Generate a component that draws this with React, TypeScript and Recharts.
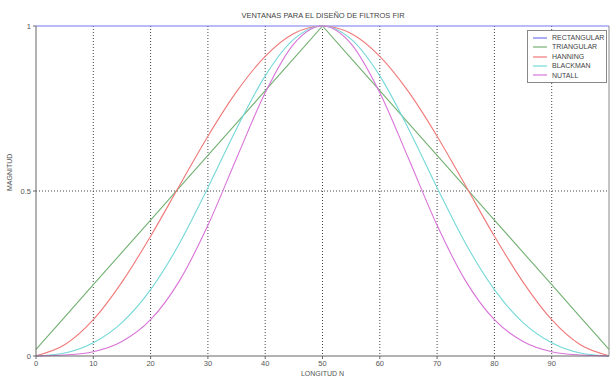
import React from 'react';
import { LineChart, Line, XAxis, YAxis, CartesianGrid, ReferenceLine } from 'recharts';

const muestras = [0, 5, 10, 15, 20, 25, 30, 35, 40, 45, 50, 55, 60, 65, 70, 75, 80, 85, 90, 95, 100];
const rectangular = [1, 1, 1, 1, 1, 1, 1, 1, 1, 1, 1, 1, 1, 1, 1, 1, 1, 1, 1, 1, 1];
const triangular = [0.02, 0.118, 0.216, 0.314, 0.412, 0.51, 0.608, 0.706, 0.804, 0.902, 1, 0.902, 0.804, 0.706, 0.608, 0.51, 0.412, 0.314, 0.216, 0.118, 0.02];
const hanning = [0.001, 0.034, 0.11, 0.224, 0.363, 0.515, 0.666, 0.801, 0.908, 0.977, 1, 0.977, 0.908, 0.801, 0.666, 0.515, 0.363, 0.224, 0.11, 0.034, 0.001];
const blackman = [0, 0.009, 0.04, 0.101, 0.201, 0.34, 0.51, 0.689, 0.849, 0.96, 1, 0.96, 0.849, 0.689, 0.51, 0.34, 0.201, 0.101, 0.04, 0.009, 0];
const nutall = [0, 0.003, 0.013, 0.044, 0.11, 0.227, 0.396, 0.599, 0.798, 0.946, 1, 0.946, 0.798, 0.599, 0.396, 0.227, 0.11, 0.044, 0.013, 0.003, 0];

const xTicks = [0, 10, 20, 30, 40, 50, 60, 70, 80, 90];
const yTicks = [0, 0.5, 1];

const series = [
    { key: 'rectangular', name: 'RECTANGULAR', color: '#7676f0' },
    { key: 'triangular', name: 'TRIANGULAR', color: '#72b072' },
    { key: 'hanning', name: 'HANNING', color: '#f07878' },
    { key: 'blackman', name: 'BLACKMAN', color: '#74d8d8' },
    { key: 'nutall', name: 'NUTALL', color: '#d874d8' },
];

const data = muestras.map((n, i) => ({
    n,
    rectangular: rectangular[i],
    triangular: triangular[i],
    hanning: hanning[i],
    blackman: blackman[i],
    nutall: nutall[i],
}));

const font = '"Liberation Sans", Arial, sans-serif';

// leyenda dibujada aparte para que no encoja el area del grafico
const LegendBox = () => (
    <div style={{ position: 'absolute', top: 30, left: 527, width: 80, boxSizing: 'border-box', border: '1px solid #888', background: '#fff', padding: '2px 0 2px 5px', fontFamily: font, fontSize: 7, color: '#444', lineHeight: '9.4px' }}>
        {series.map(s => (
            <div key={s.key} style={{ display: 'flex', alignItems: 'center' }}>
                <svg width={14} height={4} style={{ marginRight: 5 }}>
                    <line x1={0} y1={2} x2={14} y2={2} stroke={s.color} strokeWidth={1.2} />
                </svg>
                {s.name}
            </div>
        ))}
    </div>
);

export default function App() {
    return (
        <div style={{ position: 'absolute', left: 0, top: 0, width: 611, height: 376, background: '#fff' }}>
            <div style={{ position: 'absolute', top: 11, left: 0, width: 646, textAlign: 'center', fontFamily: font, fontSize: 7.5, color: '#444' }}>
                VENTANAS PARA EL DISEÑO DE FILTROS FIR
            </div>
            <LineChart width={611} height={376} data={data} margin={{ top: 26, right: 2, bottom: 0, left: 0 }}>
                <CartesianGrid
                    stroke="#444"
                    strokeDasharray="1 2"
                    horizontalValues={[0.5]}
                    verticalValues={[10, 20, 30, 40, 50, 60, 70, 80, 90]}
                />
                <XAxis
                    dataKey="n"
                    type="number"
                    domain={[0, 100]}
                    ticks={xTicks}
                    interval={0}
                    stroke="#666"
                    tickSize={3}
                    tick={{ fontSize: 7.5, fill: '#555', fontFamily: font }}
                    height={20}
                    label={{ value: 'LONGITUD N', position: 'insideBottom', offset: 0, fontSize: 7, fill: '#555', fontFamily: font }}
                />
                <YAxis
                    type="number"
                    domain={[0, 1]}
                    ticks={yTicks}
                    interval={0}
                    stroke="#666"
                    tickSize={3}
                    width={36}
                    tick={{ fontSize: 7.5, fill: '#555', fontFamily: font }}
                    label={{ value: 'MAGNITUD', angle: -90, position: 'insideLeft', offset: 10, fontSize: 7, fill: '#555', fontFamily: font }}
                />
                <ReferenceLine x={100} stroke="#888" />
                {series.map(s => (
                    <Line
                        key={s.key}
                        dataKey={s.key}
                        name={s.name}
                        type={s.key === 'triangular' || s.key === 'rectangular' ? 'linear' : 'monotone'}
                        stroke={s.color}
                        strokeWidth={1.1}
                        dot={false}
                        isAnimationActive={false}
                    />
                ))}
            </LineChart>
            <LegendBox />
        </div>
    );
}
